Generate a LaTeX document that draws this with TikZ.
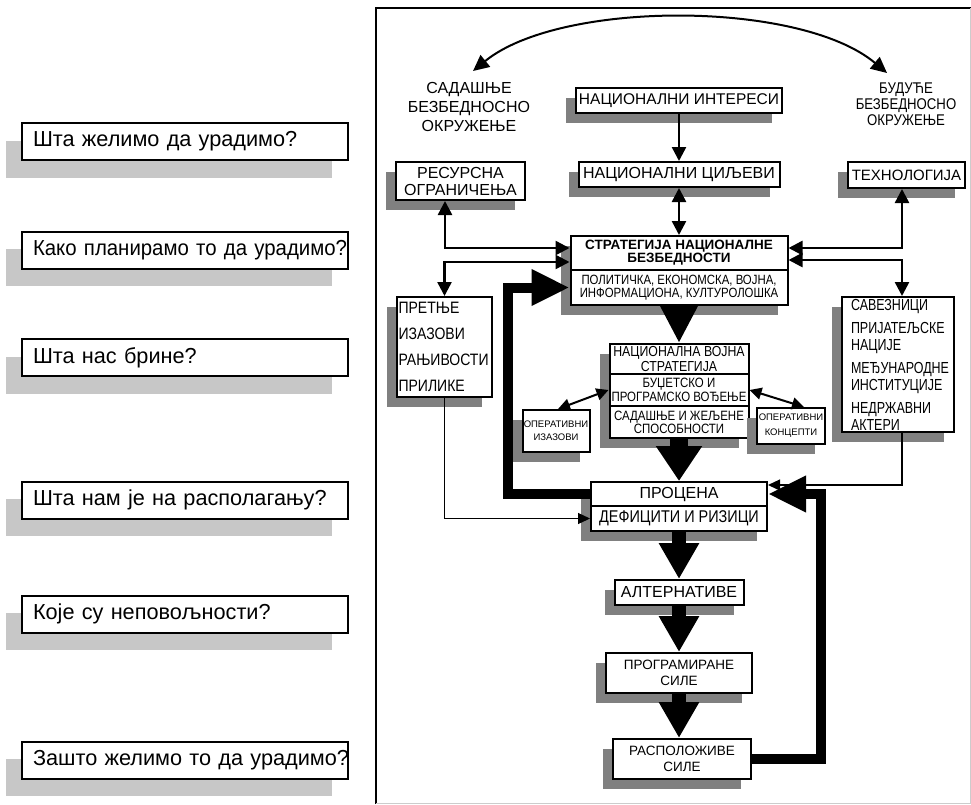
\documentclass[tikz,border=0pt]{standalone}
\usepackage{fontspec}
\setmainfont{Liberation Sans}
\newfontfamily\stretto[FakeStretch=0.85]{Liberation Sans}
\newfontfamily\strettissimo[FakeStretch=0.78]{Liberation Sans}
\newfontfamily\strettino[FakeStretch=0.94]{Liberation Sans}
\usepackage{tikz}
\usetikzlibrary{arrows.meta, shadows}
\newcommand{\corpo}[2]{\fontsize{#1}{#2}\selectfont}

\begin{document}
\begin{tikzpicture}[x = 1pt, y = -1pt,
    >={Triangle[length=14pt,width=14pt]},
    scatola/.style={draw, line width=2pt, fill=white, inner sep=0pt, align=center,
        drop shadow={shadow xshift=-10pt, shadow yshift=-10pt, draw=none, fill=black!50, opacity=1}},
    domanda/.style={draw, line width=2pt, fill=white, inner xsep=11pt, inner ysep=0pt,
        text width=304pt, minimum height=37pt, align=left, font=\corpo{21.7}{24},
        drop shadow={shadow xshift=-16.5pt, shadow yshift=-17.5pt, draw=none, fill=black!22, opacity=1}},
    freccia/.style={line width=2.5pt},
    filo/.style={line width=1.3pt, -{Triangle[length=12pt,width=11pt]}},
    freccione/.style={line width=14pt, -{Triangle[length=36pt,width=38pt]}},
    anello/.style={line width=10pt, -{Triangle[length=38pt,width=34pt]}}]
    % Parametri
    \pgfmathsetmacro{\asse}{679}
    \useasboundingbox (0,0) rectangle (971,804);
    % Cornice
    \draw[line width=2pt] (376,804) -- (376,7.5) -- (971,7.5);
    \draw[black!20, line width=1pt] (376,803.5) -- (970,803.5) -- (970,7.5);
    % Domande
    \node[domanda] (q1) at (185,141.5) {\mbox{Шта желимо да урадимо?}};
    \node[domanda] (q2) at (185,250) {\mbox{\strettino Како планирамо то да урадимо?}};
    \node[domanda] (q3) at (185,357.5) {\mbox{Шта нас брине?}};
    \node[domanda] (q4) at (185,500) {\mbox{Шта нам је на располагању?}};
    \node[domanda] (q5) at (185,614) {\mbox{Које су неповољности?}};
    \node[domanda] (q6) at (185,760) {\mbox{Зашто желимо то да урадимо?}};
    % Ambiente
    \node[align=center, font=\corpo{16}{19}] (sadasnje) at (469,107) {САДАШЊЕ\\БЕЗБЕДНОСНО\\ОКРУЖЕЊЕ};
    \node[align=center, font=\stretto\corpo{15.5}{16}] (buduce) at (906,104) {БУДУЋЕ\\БЕЗБЕДНОСНО\\ОКРУЖЕЊЕ};
    \coordinate (arcoS) at (473,71);
    \coordinate (arcoB) at (887,73);
    \draw[line width=2pt, <->, >={Triangle[length=16pt,width=15pt]}] (arcoS) .. controls (560,0) and (800,0) .. (arcoB);
    % Riquadri
    \node[scatola, minimum width=206pt, minimum height=25pt, font=\corpo{15.5}{18}] (interesi) at (\asse,100.5) {НАЦИОНАЛНИ ИНТЕРЕСИ};
    \node[scatola, minimum width=201pt, minimum height=25pt, font=\corpo{16}{18}] (ciljevi) at (\asse,174.5) {НАЦИОНАЛНИ ЦИЉЕВИ};
    \node[scatola, minimum width=129pt, minimum height=38pt, font=\corpo{16}{17}] (resursi) at (460.5,181) {РЕСУРСНА\\ОГРАНИЧЕЊА};
    \node[scatola, minimum width=117pt, minimum height=26pt, font=\corpo{15}{17}] (tehnologija) at (906.5,175) {ТЕХНОЛОГИЈА};
    \node[scatola, minimum width=217pt, minimum height=34pt, font=\bfseries\corpo{13.5}{13}] (strategijaA) at (\asse,253) {СТРАТЕГИЈА НАЦИОНАЛНЕ\\БЕЗБЕДНОСТИ};
    \node[scatola, minimum width=217pt, minimum height=35pt, font=\stretto\corpo{13.4}{12.5}] (strategijaB) at (\asse,287.5) {ПОЛИТИЧКА, ЕКОНОМСКА, ВОЈНА,\\ИНФОРМАЦИОНА, КУЛТУРОЛОШКА};
    \node[scatola, align=left, text width=92pt, inner xsep=1.5pt, minimum height=100pt, font=\stretto\corpo{16.5}{26}] (pretnje) at (444.5,347) {ПРЕТЊЕ\\ИЗАЗОВИ\\РАЊИВОСТИ\\ПРИЛИКЕ};
    \node[scatola, align=left, text width=94pt, inner xsep=9pt, minimum height=135pt, font=\strettissimo\corpo{16}{16.5}] (saveznici) at (898,364.5) {САВЕЗНИЦИ\\[7pt]ПРИЈАТЕЉСКЕ\\НАЦИЈЕ\\[7pt]МЕЂУНАРОДНЕ\\ИНСТИТУЦИЈЕ\\[7pt]НЕДРЖАВНИ\\АКТЕРИ};
    \node[scatola, minimum width=139pt, minimum height=30pt, font=\stretto\corpo{14.5}{13}] (nvs1) at (\asse,359) {НАЦИОНАЛНА ВОЈНА\\СТРАТЕГИЈА};
    \node[scatola, minimum width=139pt, minimum height=32pt, font=\stretto\corpo{13.5}{14}] (nvs2) at (\asse,390) {БУЏЕТСКО И\\ПРОГРАМСКО ВОЂЕЊЕ};
    \node[scatola, minimum width=139pt, minimum height=32pt, font=\stretto\corpo{13.5}{12}] (nvs3) at (\asse,422) {САДАШЊЕ И ЖЕЉЕНЕ\\СПОСОБНОСТИ};
    \node[scatola, minimum width=67pt, minimum height=42pt, font=\corpo{9.5}{13}] (izazovi) at (556,431) {ОПЕРАТИВНИ\\ИЗАЗОВИ};
    \node[scatola, minimum width=68pt, minimum height=36pt, font=\corpo{9.5}{15}] (koncepti) at (791,426) {ОПЕРАТИВНИ\\КОНЦЕПТИ};
    \node[scatola, minimum width=176pt, minimum height=24pt, font=\corpo{16}{18}] (procenaA) at (\asse,494) {ПРОЦЕНА};
    \node[scatola, minimum width=176pt, minimum height=25pt, font=\stretto\corpo{17}{18}] (procenaB) at (\asse,518.5) {ДЕФИЦИТИ И РИЗИЦИ};
    \node[scatola, minimum width=129pt, minimum height=25pt, font=\corpo{16}{18}] (alternative) at (\asse,592.5) {АЛТЕРНАТИВЕ};
    \node[scatola, minimum width=146pt, minimum height=40pt, font=\corpo{13.5}{16}] (programirane) at (\asse,673) {ПРОГРАМИРАНЕ\\СИЛЕ};
    \node[scatola, minimum width=138pt, minimum height=40pt, font=\corpo{13.5}{16}] (raspolozive) at (682,759) {РАСПОЛОЖИВЕ\\СИЛЕ};
    % Frecce sottili
    \draw[freccia, ->] (interesi) -- (ciljevi);
    \draw[freccia, <->] (ciljevi) -- (strategijaA);
    \draw[freccia, <->] ([xshift=-15.5pt]resursi.south) |- ([yshift=5pt]strategijaA.west);
    \draw[freccia, <->] ([yshift=-9pt]strategijaA.west) -| (pretnje.north);
    \draw[freccia, <->] ([xshift=-4.5pt]tehnologija.south) |- ([yshift=5pt]strategijaA.east);
    \draw[freccia, <->] ([yshift=-7pt]strategijaA.east) -| ([xshift=4pt]saveznici.north);
    \draw[line width=2pt, <->, >={Triangle[length=12pt,width=12pt]}] (nvs2.west) -- ([xshift=2pt]izazovi.north);
    \draw[line width=2pt, <->, >={Triangle[length=12pt,width=12pt]}] (nvs2.east) -- ([xshift=13pt]koncepti.north);
    \draw[filo] (pretnje.south) |- (procenaB.west);
    \draw[filo] ([xshift=4pt]saveznici.south) |- ([yshift=9pt]procenaA.east);
    % Frecce grosse
    \draw[freccione, -{Triangle[length=38pt,width=36pt]}] (strategijaB.south) -- (nvs1.north);
    \draw[freccione, line width=18pt, -{Triangle[length=35pt,width=44pt]}] (nvs3.south) -- (procenaA.north);
    \draw[freccione] (procenaB.south) -- (alternative.north);
    \draw[freccione] (alternative.south) -- (programirane.north);
    \draw[freccione] (programirane.south) -- (programirane.south |- raspolozive.north);
    \draw[anello] (procenaA.west) -| ([xshift=-62pt]strategijaB.west) -- (strategijaB.west);
    \draw[anello] (raspolozive.east) -| ([xshift=53pt]procenaA.east) -- (procenaA.east);
\end{tikzpicture}
\end{document}
